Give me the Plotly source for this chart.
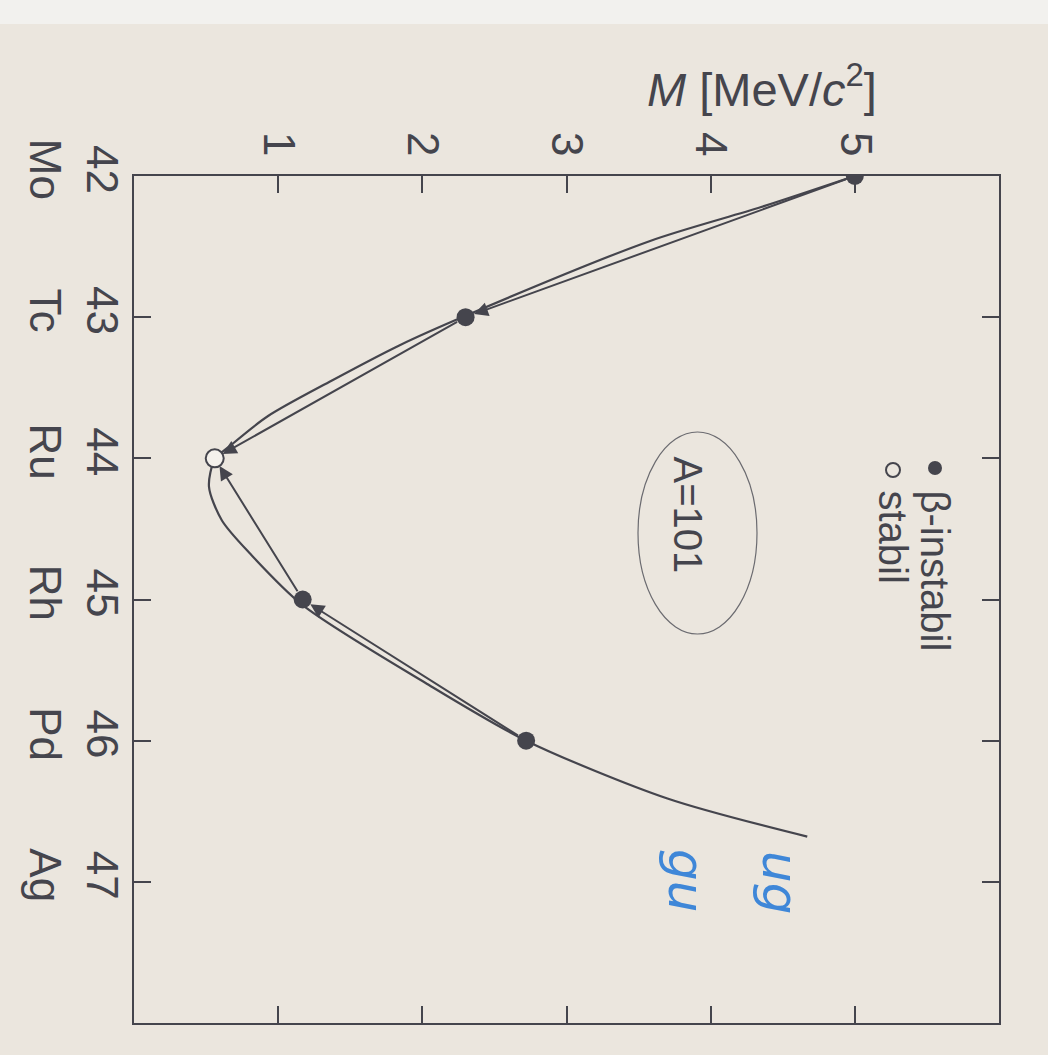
import plotly.graph_objects as go

# ---- data ----
elements = ["Mo", "Tc", "Ru", "Rh", "Pd", "Ag"]
z_ticks = [42, 43, 44, 45, 46, 47]
m_ticks = [1, 2, 3, 4, 5]

unstable_z = [42, 43, 45, 46]
unstable_m = [5.0, 2.30, 1.17, 2.72]
stable_z = [44]
stable_m = [0.56]

# mass parabola (smooth curve)
curve_z = [42.0, 42.22, 42.46, 42.99, 43.20, 43.45, 43.70, 43.90, 44.01, 44.20, 44.44, 44.68, 45.04, 45.59, 46.00, 46.41, 46.68]
curve_m = [5.0, 4.35, 3.58, 2.30, 1.84, 1.37, 0.93, 0.68, 0.56, 0.52, 0.61, 0.81, 1.17, 2.02, 2.72, 3.70, 4.67]

# decay arrows (from -> to)
decay_from_z = [42, 43, 46, 45]
decay_from_m = [5.0, 2.30, 2.72, 1.17]
decay_to_z = [43, 44, 45, 44]
decay_to_m = [2.30, 0.56, 1.17, 0.56]

INK = "#45454d"
PAPER = "#ebe6de"
FONT = "Liberation Sans, Arial, sans-serif"

W, H = 1048, 1055
L, R, T, B = 134, 49, 176, 32
PW, PH = W - L - R, H - T - B


def px(x):
    return (x - L) / PW


def py(y):
    return 1 - (y - T) / PH


fig = go.Figure()

fig.add_trace(go.Scatter(x=curve_m, y=curve_z, mode="lines",
                         line=dict(color=INK, width=2.2, shape="spline", smoothing=0.8),
                         hoverinfo="skip", showlegend=False))
fig.add_trace(go.Scatter(x=unstable_m, y=unstable_z, mode="markers",
                         marker=dict(size=18, color=INK, line=dict(width=0)), showlegend=False))
fig.add_trace(go.Scatter(x=stable_m, y=stable_z, mode="markers",
                         marker=dict(size=18, color="#f4f1ec", line=dict(width=2, color=INK)), showlegend=False))

annotations = []
for fz, fm, tz, tm in zip(decay_from_z, decay_from_m, decay_to_z, decay_to_m):
    annotations.append(dict(x=tm, y=tz, ax=fm, ay=fz, xref="x", yref="y", axref="x", ayref="y",
                            text="", showarrow=True, arrowhead=2, arrowsize=1.4, arrowwidth=2,
                            arrowcolor=INK, standoff=9, startstandoff=8))

# axis title (horizontal)
annotations.append(dict(x=px(762), y=py(86), xref="paper", yref="paper", showarrow=False,
                        xanchor="center", yanchor="middle",
                        text="<i>M</i> [MeV/<i>c</i><sup>2</sup>]", font=dict(size=47, color=INK, family=FONT)))
# legend texts (rotated)
annotations.append(dict(x=px(935), y=py(488), xref="paper", yref="paper", showarrow=False, textangle=90,
                        xanchor="center", yanchor="top", text="β-instabil", font=dict(size=40, color=INK, family=FONT)))
annotations.append(dict(x=px(893), y=py(488), xref="paper", yref="paper", showarrow=False, textangle=90,
                        xanchor="center", yanchor="top", text="stabil", font=dict(size=40, color=INK, family=FONT)))
annotations.append(dict(x=px(688), y=py(454), xref="paper", yref="paper", showarrow=False, textangle=90,
                        xanchor="center", yanchor="top", text="A=101", font=dict(size=40, color=INK, family=FONT)))
# handwritten note
annotations.append(dict(x=px(780), y=py(882), xref="paper", yref="paper", showarrow=False, textangle=90,
                        xanchor="center", yanchor="middle", text="ug",
                        font=dict(size=50, color="#3f87d8", family="DejaVu Sans", style="italic")))
annotations.append(dict(x=px(686), y=py(880), xref="paper", yref="paper", showarrow=False, textangle=90,
                        xanchor="center", yanchor="middle", text="gu",
                        font=dict(size=50, color="#3f87d8", family="DejaVu Sans", style="italic")))

shapes = [
    # legend markers
    dict(type="circle", xref="paper", yref="paper", x0=px(928), x1=px(942), y0=py(461), y1=py(475),
         fillcolor=INK, line=dict(width=0)),
    dict(type="circle", xref="paper", yref="paper", x0=px(886), x1=px(900), y0=py(463), y1=py(477),
         line=dict(width=2, color=INK)),
    # hand-drawn ellipse around A=101
    dict(type="circle", xref="paper", yref="paper", x0=px(638), x1=px(757), y0=py(432), y1=py(634),
         line=dict(width=1.2, color="#6b6b70")),
    # white grid paper strip at the top
    dict(type="rect", xref="paper", yref="paper", x0=px(0), x1=px(W), y0=py(0), y1=py(24),
         fillcolor="#f2f1ee", line=dict(width=0), layer="below"),
]

fig.update_layout(
    width=W, height=H,
    margin=dict(l=L, r=R, t=T, b=B),
    paper_bgcolor=PAPER, plot_bgcolor=PAPER,
    showlegend=False,
    annotations=annotations, shapes=shapes,
    xaxis=dict(range=[0, 6], side="top", tickvals=m_ticks, ticktext=[str(v) for v in m_ticks],
               tickangle=90, ticks="inside", ticklen=17, tickwidth=2, tickcolor=INK,
               showline=True, linewidth=2, linecolor=INK, mirror="ticks", showgrid=False, zeroline=False,
               tickfont=dict(size=44, color=INK, family=FONT), ticklabelstandoff=2),
    yaxis=dict(range=[48, 42], tickvals=z_ticks,
               ticktext=[f"{z}<br>{e}" for z, e in zip(z_ticks, elements)],
               tickangle=90, ticks="inside", ticklen=17, tickwidth=2, tickcolor=INK,
               showline=True, linewidth=2, linecolor=INK, mirror="ticks", showgrid=False, zeroline=False,
               tickfont=dict(size=44, color=INK, family=FONT), ticklabelstandoff=-8),
)

fig.write_html("out.html", config={"displayModeBar": False},
               post_script="document.body.style.margin='0';document.body.style.background='%s';" % PAPER)
